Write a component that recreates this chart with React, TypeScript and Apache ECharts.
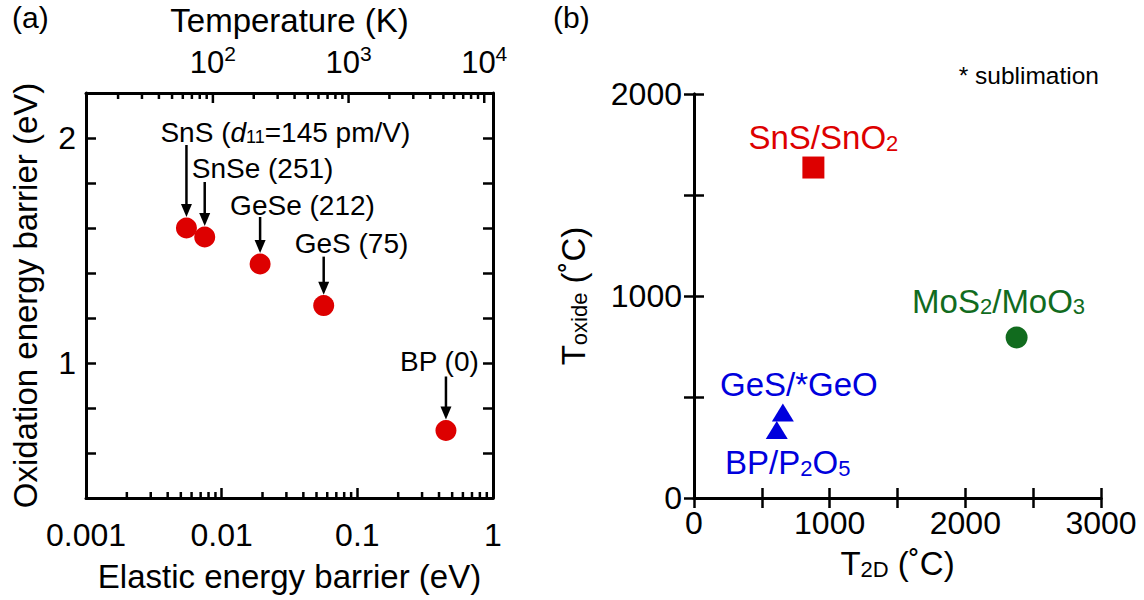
import React, { useEffect, useRef } from 'react';
import * as echarts from 'echarts';

const FONT = '"Liberation Sans", Arial, Helvetica, sans-serif';

// ---- Panel (a) data ----
const materialsA = ['SnS', 'SnSe', 'GeSe', 'GeS', 'BP'];
const elasticBarrier = [0.0055, 0.0075, 0.0192, 0.0565, 0.45]; // eV
const oxidationBarrier = [1.6, 1.56, 1.44, 1.255, 0.7]; // eV
const d11Values = ['145 pm/V', '251', '212', '75', '0'];

const elasticMinor = [
  0.002, 0.003, 0.004, 0.005, 0.006, 0.007, 0.008, 0.009,
  0.02, 0.03, 0.04, 0.05, 0.06, 0.07, 0.08, 0.09,
  0.2, 0.3, 0.4, 0.5, 0.6, 0.7, 0.8, 0.9,
];
const tempMajor = [100, 1000, 10000];
const tempMinor = [
  20, 30, 40, 50, 60, 70, 80, 90,
  200, 300, 400, 500, 600, 700, 800, 900,
  2000, 3000, 4000, 5000, 6000, 7000, 8000, 9000,
];
const kB = 8.617333e-5; // eV per K

// ---- Panel (b) data ----
const pairsB = ['SnS/SnO2', 'MoS2/MoO3', 'GeS/*GeO', 'BP/P2O5'];
const t2dValues = [880, 2378, 655, 610];
const toxideValues = [1636, 795, 423, 337];

// ---- layout / style (not data) ----
const labelOffsetA = [[-26, -96], [-13, -69], [-30, -59], [-29, -62], [-46, -69]];
const arrowTopA = [-83, -55, -47, -49, -54];
const labelOffsetB = [[10, -30], [-18, -36], [16, -28], [11, 33]];

const RED = '#dd0000';
const GREEN = '#116b1e';
const BLUE = '#0000dd';

const labelTextA = materialsA.map((m, i) =>
  i === 0
    ? `{n|${m} (}{i|d}{s|11}{n|=${d11Values[i]})}`
    : `{n|${m} (${d11Values[i]})}`
);

const subRich = (size: number, sub: number, color: string) => ({
  n: { fontSize: size, fontFamily: FONT, color },
  s: { fontSize: sub, fontFamily: FONT, color, verticalAlign: 'bottom' },
});

const toRichFormula = (s: string) =>
  s.replace(/([A-Za-z*/]+)|(\d+)/g, (m, a, d) => (a ? `{n|${a}}` : `{s|${d}}`));

const axisLineStyle = { show: true, lineStyle: { color: '#000', width: 3 } };
const tickStyle = (len: number) => ({
  show: true,
  inside: true,
  length: len,
  lineStyle: { color: '#000', width: 2.5 },
});

// custom series that draws inward ticks on a log axis through the axis scale
const tickSeries = (xAxisIndex: number, values: number[], len: number, atTop: boolean) => ({
  type: 'custom',
  xAxisIndex,
  yAxisIndex: 0,
  data: values.map((v) => [v, 1]),
  silent: true,
  z: 5,
  renderItem: (params: any, api: any) => {
    const cs = params.coordSys;
    const px = api.coord([api.value(0), 1])[0];
    const y0 = atTop ? cs.y : cs.y + cs.height;
    const y1 = atTop ? y0 + len : y0 - len;
    return {
      type: 'line',
      shape: { x1: px, y1: y0, x2: px, y2: y1 },
      style: { stroke: '#000', lineWidth: 2.5 },
    };
  },
});

export default function App() {
  const ref = useRef<HTMLDivElement>(null);
  useEffect(() => {
    if (!ref.current) return;
    const chart = echarts.init(ref.current, undefined, { renderer: 'svg' });

    const richA = {
      n: { fontSize: 28, fontFamily: FONT, fill: '#000' },
      i: { fontSize: 28, fontFamily: FONT, fontStyle: 'italic', fill: '#000' },
      s: { fontSize: 18, fontFamily: FONT, fill: '#000', verticalAlign: 'bottom' },
    };

    const colorsB = [RED, GREEN, BLUE, BLUE];
    const symbolsB = ['rect', 'circle', 'triangle', 'triangle'];
    const sizesB: any[] = [22, 22, [22, 18], [22, 18]];

    const option: any = {
      animation: false,
      backgroundColor: '#fff',
      textStyle: { fontFamily: FONT },
      grid: [
        { left: 86, top: 93, width: 407, height: 405, containLabel: false, outerBoundsMode: 'none' },
        { left: 694, top: 94, width: 407, height: 404, containLabel: false, outerBoundsMode: 'none' },
      ],
      xAxis: [
        {
          gridIndex: 0, type: 'log', logBase: 10, position: 'bottom', min: 0.001, max: 1,
          axisLine: axisLineStyle, axisTick: tickStyle(10), splitLine: { show: false },
          axisLabel: {
            fontSize: 32, color: '#000', fontFamily: FONT, margin: 21,
            formatter: (v: number) => String(Number(v.toPrecision(3))),
          },
          name: 'Elastic energy barrier (eV)', nameLocation: 'middle', nameGap: 62,
          nameTextStyle: { fontSize: 33, color: '#000', fontFamily: FONT },
        },
        {
          gridIndex: 0, type: 'log', logBase: 10, position: 'top', min: 0.001 / kB, max: 1 / kB,
          axisLine: axisLineStyle,
          axisTick: { show: false },
          splitLine: { show: false },
          axisLabel: {
            margin: 12, color: '#000',
            formatter: (v: number) => {
              const e = Math.log10(v);
              return Math.abs(e - Math.round(e)) < 1e-6 ? `{b|10}{s|${Math.round(e)}}` : '';
            },
            rich: {
              b: { fontSize: 31, fontFamily: FONT, color: '#000', lineHeight: 38 },
              s: { fontSize: 21, fontFamily: FONT, color: '#000', verticalAlign: 'top', lineHeight: 21 },
            },
          },
          name: 'Temperature (K)', nameLocation: 'middle', nameGap: 56,
          nameTextStyle: { fontSize: 33, color: '#000', fontFamily: FONT },
        },
        {
          gridIndex: 1, type: 'value', position: 'bottom', min: 0, max: 3000, interval: 500,
          axisLine: axisLineStyle, axisTick: tickStyle(10), splitLine: { show: false },
          axisLabel: {
            fontSize: 32, color: '#000', fontFamily: FONT, margin: 9,
            formatter: (v: number) => (v % 1000 === 0 ? String(v) : ''),
          },
          name: '{t|T}{s|2D}{t| (˚C)}', nameLocation: 'middle', nameGap: 49,
          nameTextStyle: {
            color: '#000',
            rich: {
              t: { fontSize: 33, fontFamily: FONT, color: '#000' },
              s: { fontSize: 22, fontFamily: FONT, color: '#000', verticalAlign: 'bottom' },
            },
          },
        },
        {
          gridIndex: 1, type: 'value', position: 'top', min: 0, max: 3000, interval: 500,
          axisLine: axisLineStyle, axisTick: tickStyle(10), splitLine: { show: false },
          axisLabel: { show: false },
        },
      ],
      yAxis: [
        {
          gridIndex: 0, type: 'value', position: 'left', min: 0.4, max: 2.2, interval: 0.2,
          axisLine: axisLineStyle, axisTick: tickStyle(10), splitLine: { show: false },
          axisLabel: {
            fontSize: 32, color: '#000', fontFamily: FONT, margin: 10,
            formatter: (v: number) => (Math.abs(v - 1) < 1e-6 ? '1' : Math.abs(v - 2) < 1e-6 ? '2' : ''),
          },
          name: 'Oxidation energy barrier (eV)', nameLocation: 'middle', nameGap: 44, nameRotate: 90,
          nameTextStyle: { fontSize: 33, color: '#000', fontFamily: FONT },
        },
        {
          gridIndex: 0, type: 'value', position: 'right', min: 0.4, max: 2.2, interval: 0.2,
          axisLine: axisLineStyle, axisTick: tickStyle(10), splitLine: { show: false },
          axisLabel: { show: false },
        },
        {
          gridIndex: 1, type: 'value', position: 'left', min: 0, max: 2000, interval: 500,
          axisLine: axisLineStyle, axisTick: tickStyle(10), splitLine: { show: false },
          axisLabel: {
            fontSize: 32, color: '#000', fontFamily: FONT, margin: 12,
            formatter: (v: number) => (v % 1000 === 0 ? String(v) : ''),
          },
          name: '{t|T}{s|oxide}{t| (˚C)}', nameLocation: 'middle', nameGap: 104, nameRotate: 90,
          nameTextStyle: {
            color: '#000',
            rich: {
              t: { fontSize: 33, fontFamily: FONT, color: '#000' },
              s: { fontSize: 22, fontFamily: FONT, color: '#000', verticalAlign: 'bottom' },
            },
          },
        },
        {
          gridIndex: 1, type: 'value', position: 'right', min: 0, max: 2000, interval: 500,
          axisLine: axisLineStyle, axisTick: tickStyle(10), splitLine: { show: false },
          axisLabel: { show: false },
        },
      ],
      graphic: [
        { type: 'text', left: 12, top: 2, style: { text: '(a)', fontSize: 30, fontFamily: FONT, fill: '#000' } },
        { type: 'text', left: 553, top: 2, style: { text: '(b)', fontSize: 30, fontFamily: FONT, fill: '#000' } },
        {
          type: 'text', x: 1099, y: 75,
          style: { text: '* sublimation', fontSize: 24.5, fontFamily: FONT, fill: '#000', align: 'right', verticalAlign: 'middle' },
        },
      ],
      series: [
        tickSeries(0, elasticMinor, 6, false),
        tickSeries(1, tempMajor, 10, true),
        tickSeries(1, tempMinor, 6, true),
        {
          type: 'scatter', xAxisIndex: 0, yAxisIndex: 0,
          data: elasticBarrier.map((x, i) => [x, oxidationBarrier[i]]),
          symbol: 'circle', symbolSize: 21,
          itemStyle: { color: RED, opacity: 1 },
          z: 3,
        },
        {
          type: 'custom', xAxisIndex: 0, yAxisIndex: 0,
          data: elasticBarrier.map((x, i) => [x, oxidationBarrier[i]]),
          z: 4,
          renderItem: (params: any, api: any) => {
            const i = params.dataIndex;
            const p = api.coord([api.value(0), api.value(1)]);
            const tipY = p[1] - 11;
            const headH = 13;
            const headW = 11;
            return {
              type: 'group',
              children: [
                {
                  type: 'line',
                  shape: { x1: p[0], y1: p[1] + arrowTopA[i], x2: p[0], y2: tipY - headH + 1 },
                  style: { stroke: '#000', lineWidth: 2.5 },
                },
                {
                  type: 'polygon',
                  shape: { points: [[p[0] - headW / 2, tipY - headH], [p[0] + headW / 2, tipY - headH], [p[0], tipY]] },
                  style: { fill: '#000' },
                },
                {
                  type: 'text',
                  x: p[0] + labelOffsetA[i][0],
                  y: p[1] + labelOffsetA[i][1],
                  style: {
                    text: labelTextA[i], rich: richA, fontSize: 28, fontFamily: FONT,
                    fill: '#000', align: 'left', verticalAlign: 'middle',
                  },
                },
              ],
            };
          },
        },
        ...pairsB.map((name, i) => ({
          type: 'scatter', name, xAxisIndex: 2, yAxisIndex: 2,
          data: [[t2dValues[i], toxideValues[i]]],
          symbol: symbolsB[i], symbolSize: sizesB[i],
          itemStyle: { color: colorsB[i], opacity: 1 },
          label: {
            show: true, position: 'inside', offset: labelOffsetB[i],
            formatter: toRichFormula(name),
            rich: subRich(33, 22, colorsB[i]),
          },
          z: 3,
        })),
      ],
    };

    chart.setOption(option);
    return () => chart.dispose();
  }, []);

  return (
    <div
      ref={ref}
      style={{ position: 'fixed', left: 0, top: 0, width: 1144, height: 600, background: '#fff' }}
    />
  );
}
